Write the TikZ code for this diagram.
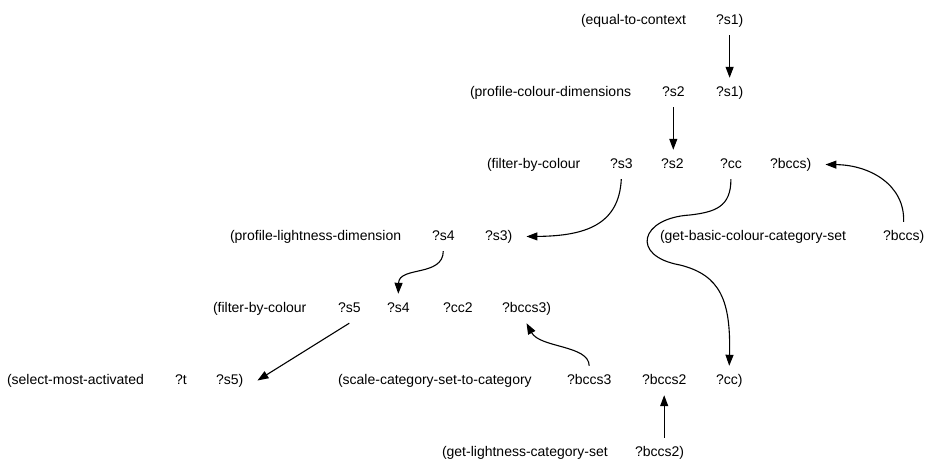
\documentclass[tikz,border=0pt]{standalone}
\usepackage{fontspec}
\setmainfont{Liberation Sans}
\usetikzlibrary{arrows.meta}

\tikzset{
  fld/.style={anchor=text, inner xsep=14pt, inner ysep=8pt,
    text height=10pt, text depth=3pt, font=\fontsize{14}{16}\selectfont},
  link/.style={line width=1.1pt, -{Triangle[length=11pt,width=8pt]}}
}

\begin{document}
\begin{tikzpicture}[x=1pt,y=-1pt]
%%%%%baselines of the rows
\def\ya{24}
\def\yb{96}
\def\yc{168}
\def\yd{240}
\def\ye{312}
\def\yf{384}
\def\yg{456}

\useasboundingbox (0,0) rectangle (928,464);

%%%%%fields
\foreach \nm/\x/\y/\txt in {
  ctx/581/\ya/{(equal-to-context}, ctxS1/716/\ya/{?s1)},
  pcd/470/\yb/{(profile-colour-dimensions}, pcdS2/662/\yb/{?s2}, pcdS1/716/\yb/{?s1)},
  fbc/487/\yc/{(filter-by-colour}, fbcS3/610/\yc/{?s3}, fbcS2/661/\yc/{?s2},
  fbcCC/720/\yc/{?cc}, fbcBCCS/770/\yc/{?bccs)},
  pld/230/\yd/{(profile-lightness-dimension}, pldS4/432/\yd/{?s4}, pldS3/485/\yd/{?s3)},
  gbc/660/\yd/{(get-basic-colour-category-set}, gbcBCCS/883/\yd/{?bccs)},
  fbb/213/\ye/{(filter-by-colour}, fbbS5/338/\ye/{?s5}, fbbS4/387/\ye/{?s4},
  fbbCC2/443/\ye/{?cc2}, fbbBCCS3/502/\ye/{?bccs3)},
  sma/7/\yf/{(select-most-activated}, smaT/175/\yf/{?t}, smaS5/216/\yf/{?s5)},
  scs/338/\yf/{(scale-category-set-to-category}, scsBCCS3/567/\yf/{?bccs3},
  scsBCCS2/642/\yf/{?bccs2}, scsCC/716/\yf/{?cc)},
  glc/442/\yg/{(get-lightness-category-set}, glcBCCS2/635/\yg/{?bccs2)}}
  \node[fld] (\nm) at (\x,\y) {\txt};

%%%%%links
\draw[link] (ctxS1) -- (pcdS1);
\draw[link] (pcdS2.south) -- (pcdS2.south |- fbcS2.north);
\draw[link] (fbcS3.south) .. controls (619,225) and (585,236) .. (pldS3.east);
\draw[link] (fbcCC.south) .. controls (731,207) and (715,212) .. (690,215)
  .. controls (640,218) and (630,256) .. (680,265)
  .. controls (720,275) and (731,300) .. (scsCC.north);
\draw[link] (gbcBCCS.north) .. controls (905,185) and (870,165) .. (fbcBCCS.east);
\draw[link] (pldS4.south) .. controls (443,277) and (399,266) .. (fbbS4.north);
\draw[link] (fbbS5.south) -- (smaS5.east);
\draw[link] (scsBCCS3.north) .. controls (589,345) and (540,348) .. (fbbBCCS3.south);
\draw[link] (glcBCCS2.north -| scsBCCS2.south) -- (scsBCCS2.south);
\end{tikzpicture}
\end{document}
